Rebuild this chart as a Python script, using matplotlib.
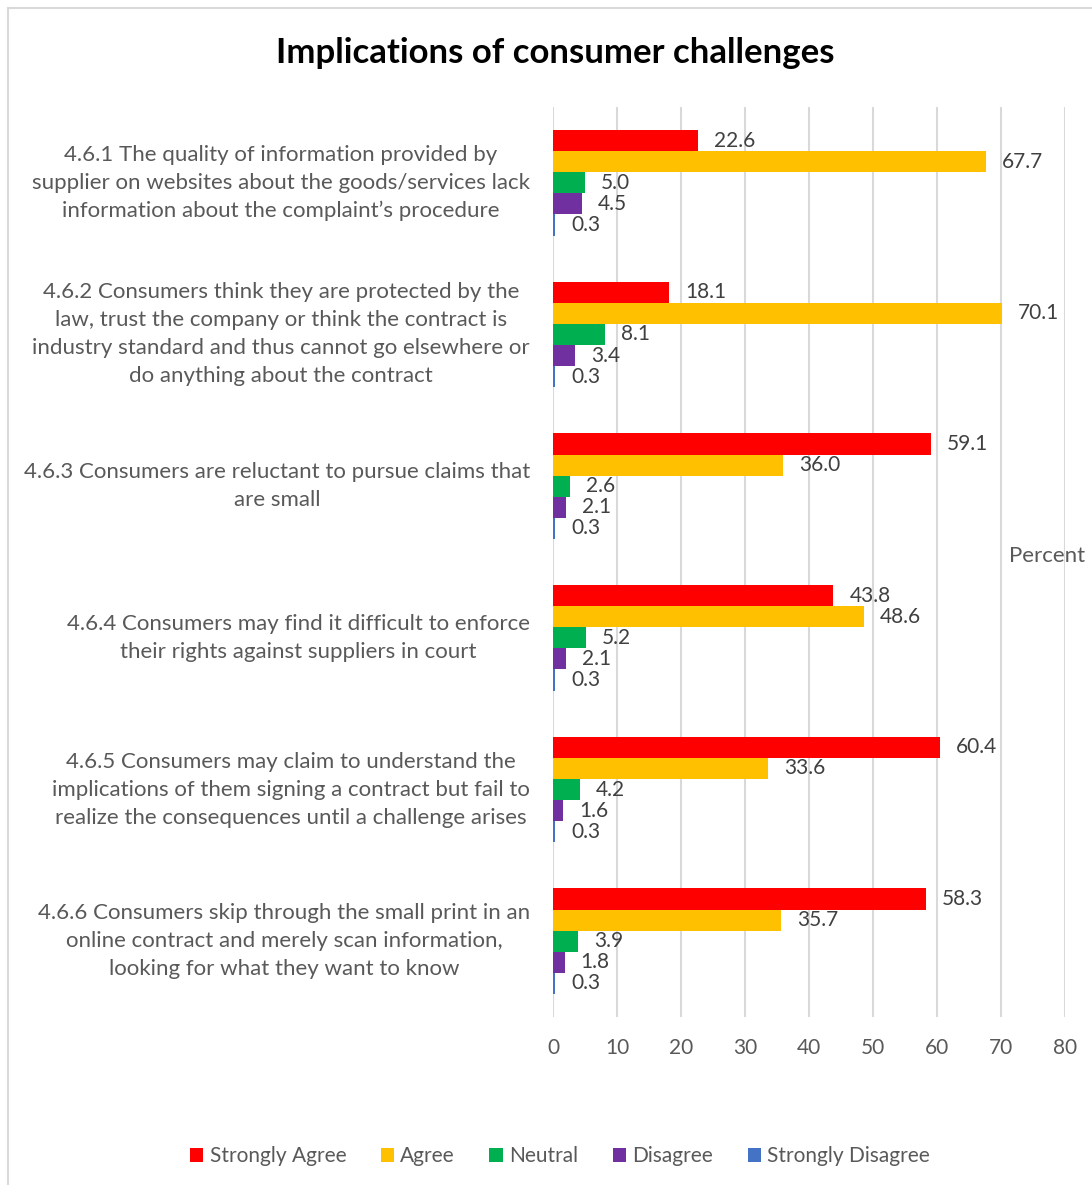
import matplotlib
matplotlib.use("Agg")
import matplotlib.pyplot as plt
import numpy as np
from matplotlib.lines import Line2D
from matplotlib.patches import Patch

plt.rcParams['font.family'] = ['Lato', 'DejaVu Sans']

categories = [
    "4.6.1 The quality of information provided by\nsupplier on websites about the goods/services lack\ninformation about the complaint\u2019s procedure",
    "4.6.2 Consumers think they are protected by the\nlaw, trust the company or think the contract is\nindustry standard and thus cannot go elsewhere or\ndo anything about the contract",
    "4.6.3 Consumers are reluctant to pursue claims that\nare small",
    "4.6.4 Consumers may find it difficult to enforce\ntheir rights against suppliers in court",
    "4.6.5 Consumers may claim to understand the\nimplications of them signing a contract but fail to\nrealize the consequences until a challenge arises",
    "4.6.6 Consumers skip through the small print in an\nonline contract and merely scan information,\nlooking for what they want to know",
]
series_names = ["Strongly Agree", "Agree", "Neutral", "Disagree", "Strongly Disagree"]
strongly_agree = [22.6, 18.1, 59.1, 43.8, 60.4, 58.3]
agree = [67.7, 70.1, 36.0, 48.6, 33.6, 35.7]
neutral = [5.0, 8.1, 2.6, 5.2, 4.2, 3.9]
disagree = [4.5, 3.4, 2.1, 2.1, 1.6, 1.8]
strongly_disagree = [0.3, 0.3, 0.3, 0.3, 0.3, 0.3]
x_ticks = [0, 10, 20, 30, 40, 50, 60, 70, 80]

colors = ["#FF0000", "#FFC000", "#00B050", "#7030A0", "#4472C4"]
series = [strongly_agree, agree, neutral, disagree, strongly_disagree]

W, H = 1092, 1185
fig = plt.figure(figsize=(W / 100, H / 100), dpi=100)

# chart frame (left and top edges)
frame_kw = dict(transform=fig.transFigure, color="#D9D9D9", linewidth=1.5)
fig.add_artist(Line2D([7.5 / W, 7.5 / W], [0, 1 - 7.5 / H], **frame_kw))
fig.add_artist(Line2D([7.5 / W, 1], [1 - 7.5 / H, 1 - 7.5 / H], **frame_kw))

left, right, top, bottom = 553, 1065, 107, 1017
ax = fig.add_axes([left / W, (H - bottom) / H, (right - left) / W, (bottom - top) / H])

y = np.arange(len(categories))
h = 0.139
value_col = "#404040"
label_col = "#595959"
for j, (vals, c) in enumerate(zip(series, colors)):
    pos = y + (j - 2) * h
    ax.barh(pos, vals, height=h, color=c, zorder=3)
    for p, v in zip(pos, vals):
        ax.annotate(f"{v:.1f}", xy=(v, p), xytext=(11.5, 0), textcoords="offset points",
                    ha="left", va="center", fontsize=15, color=value_col, zorder=4)

ax.set_xlim(0, 80)
ax.set_ylim(len(categories) - 0.5, -0.5)
ax.set_xticks(x_ticks)
ax.set_xticklabels([str(t) for t in x_ticks], fontsize=15, color=label_col)
ax.tick_params(axis="x", length=0, pad=15)
ax.set_yticks([])
ax.grid(axis="x", color="#D9D9D9", linewidth=1.5, zorder=0)
for s in ax.spines.values():
    s.set_visible(False)

for i, lab in enumerate(categories):
    ax.text(-0.045, i, lab, transform=ax.get_yaxis_transform(), ha="right", va="center",
            multialignment="center", fontsize=16, color=label_col, linespacing=1.5)

fig.text(555 / W, 1 - 53 / H, "Implications of consumer challenges", ha="center", va="center",
         fontsize=25, fontweight="bold", color="black")
fig.text(1009 / W, 1 - 556 / H, "Percent", ha="left", va="center", fontsize=16, color=label_col)

handles = [Patch(facecolor=c, edgecolor="none") for c in colors]
fig.legend(handles, series_names, loc="center", bbox_to_anchor=(560 / W, 1 - 1156 / H), ncol=5,
           frameon=False, fontsize=15, handlelength=0.65, handleheight=0.65, handletextpad=0.3,
           columnspacing=1.65, labelcolor=label_col)

fig.savefig("out.png", dpi=100)
